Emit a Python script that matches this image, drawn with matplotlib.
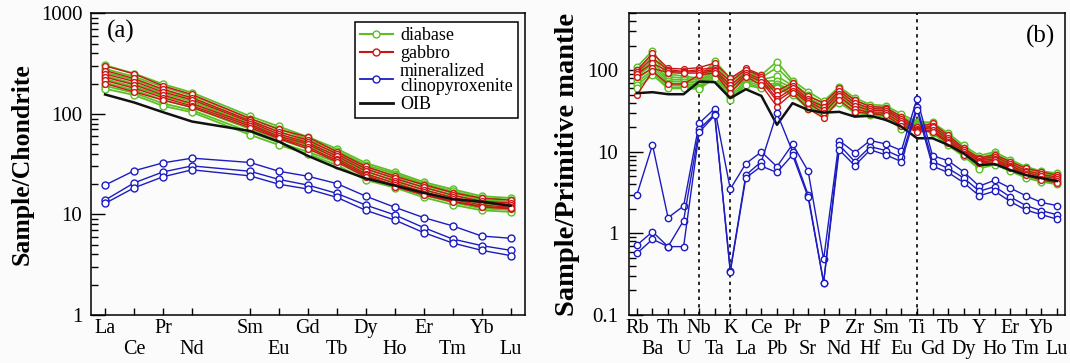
import numpy as np
import matplotlib.pyplot as plt
from matplotlib.lines import Line2D
from matplotlib.ticker import LogLocator, NullFormatter

plt.rcParams['font.family'] = 'serif'
plt.rcParams['font.serif'] = ['Liberation Serif', 'DejaVu Serif']

# ---- (a) chondrite-normalised REE ----
LANTHANIDES = ["La", "Ce", "Pr", "Nd", "Pm", "Sm", "Eu", "Gd", "Tb", "Dy",
               "Ho", "Er", "Tm", "Yb", "Lu"]
REE = [e for e in LANTHANIDES if e != "Pm"]

oib_ree = [156, 130, 104, 84, 67.6, 53, 38.3, 29, 22.8, 19.4, 16.4, 14.2, 13.4, 12.2]

diabase_ree = [
    [305, 252, 198, 163, 95, 75, 59, 45, 32.5, 26.5, 21, 17.8, 15.2, 14.6],
    [280, 235, 185, 152, 90, 71, 56, 43, 31, 25.5, 20.2, 17, 14.6, 14.0],
    [260, 218, 172, 142, 85, 67, 53, 41, 29.5, 24.5, 19.5, 16.4, 14.0, 13.4],
    [240, 200, 160, 133, 80, 63, 50, 39, 28, 23.3, 18.6, 15.7, 13.3, 12.8],
    [222, 186, 150, 125, 76, 60, 48, 37, 26.5, 22, 17.6, 14.8, 12.7, 12.2],
    [205, 172, 138, 116, 71, 56, 45, 35, 25, 20.8, 16.6, 14, 12, 11.6],
    [190, 162, 127, 109, 66, 52, 42, 33, 23.5, 19.5, 15.6, 13.2, 11.5, 11.1],
    [178, 154, 120, 104, 62, 49, 40, 31, 22, 18.5, 14.8, 12.5, 11, 10.6],
]

gabbro_ree = [
    [300, 250, 190, 156, 90, 70, 59, 42, 30, 24, 19.8, 16.5, 14.5, 13.9],
    [270, 225, 176, 145, 86, 66, 55, 40, 28.5, 22.8, 18.6, 15.5, 13.6, 13.0],
    [250, 210, 165, 138, 83, 63, 52, 38, 27, 21.5, 17.6, 14.8, 13.0, 12.4],
    [232, 195, 154, 127, 79, 60, 50, 36, 25.5, 20.4, 16.8, 14.1, 12.4, 11.8],
    [215, 180, 145, 120, 76, 58, 47, 34.5, 24.5, 19.5, 16, 13.5, 11.9, 11.4],
    [200, 166, 137, 116, 73, 57, 45, 33.4, 23.7, 18.9, 15.6, 13.4, 11.9, 11.5],
]

cpx_ree = [
    [19.6, 27.2, 32.6, 36.3, 32.9, 26.9, 24.0, 20.3, 15.2, 11.8, 9.3, 7.7, 6.1, 5.8],
    [13.9, 20.6, 26.5, 30.4, 26.9, 22.3, 19.6, 16.2, 12.4, 9.9, 7.4, 5.7, 4.9, 4.4],
    [12.9, 18.4, 23.7, 27.8, 24.2, 20.0, 17.9, 14.8, 11.0, 8.8, 6.6, 5.2, 4.4, 3.9],
]

# ---- (b) primitive-mantle-normalised trace elements ----
SPIDER = ["Rb", "Ba", "Th", "U", "Nb", "Ta", "K", "La", "Ce", "Pb", "Pr", "Sr",
          "P", "Nd", "Zr", "Hf", "Sm", "Eu", "Ti", "Gd", "Tb", "Dy", "Y", "Ho",
          "Er", "Tm", "Yb", "Lu"]
ANOMALY_LINES = ["Nb", "K", "Ti"]

oib_spider = [52.5, 54, 51, 51, 73, 71.6, 45.6, 58.7, 48.6, 21.5, 39.6, 32.7,
              30.3, 31, 27.1, 27.7, 24.7, 20.4, 14.7, 14.7, 12.2, 9.6, 6.9, 7.1,
              6.0, 5.2, 4.76, 4.4]

diabase_spider = [
    [110, 175, 90, 85, 80, 131, 80, 100, 88, 128, 75, 55, 42, 63, 46, 38, 37, 29, 23.5, 23, 17, 12, 9, 10, 8, 6.6, 5.8, 5.5],
    [100, 150, 84, 80, 76, 120, 72, 95, 82, 108, 70, 50, 39, 58, 43, 36, 35, 27, 22.5, 21.5, 16, 11.3, 8.5, 9.5, 7.6, 6.3, 5.5, 5.2],
    [92, 130, 78, 76, 72, 110, 66, 88, 77, 85, 65, 46, 37, 54, 40, 34, 33, 25.5, 22, 20.5, 15.2, 10.8, 8.1, 9.0, 7.2, 6.0, 5.3, 5.0],
    [85, 118, 74, 72, 69, 102, 60, 82, 73, 75, 61, 43, 35, 51, 38, 32.5, 31.5, 24, 21.5, 19.5, 14.5, 10.3, 7.7, 8.6, 6.9, 5.7, 5.1, 4.8],
    [78, 108, 70, 68, 66, 96, 55, 77, 69, 68, 58, 40, 33, 48, 36, 31, 30, 22.5, 21, 18.7, 14, 9.8, 7.2, 8.1, 6.6, 5.4, 4.8, 4.5],
    [72, 100, 66, 65, 63, 90, 50, 73, 65, 64, 55, 38, 31, 45, 34, 30, 29, 21, 20.5, 18, 13.2, 9.4, 6.8, 7.6, 6.2, 5.1, 4.6, 4.3],
    [66, 94, 62, 62, 61, 85, 47, 69, 62, 62, 52, 36, 29.5, 42, 32, 29, 28, 20, 20, 17.5, 12.6, 9.0, 6.5, 7.3, 6.0, 4.9, 4.4, 4.1],
    [60, 88, 60, 60, 59, 80, 43.5, 66, 60, 60, 50, 34, 28, 40, 30, 28, 27, 19, 20, 17, 12, 8.8, 6.2, 7.0, 5.8, 4.8, 4.3, 4.0],
]

gabbro_spider = [
    [100, 162, 106, 104, 108, 123, 80, 106, 88, 56, 70, 48, 40, 60, 43, 36, 35, 27, 20, 22.5, 16, 11.1, 8.4, 9.2, 7.6, 6.3, 5.7, 5.2],
    [95, 141, 102, 97, 102, 108, 73, 101, 84, 50, 65, 44, 36, 56, 40, 34, 33.5, 25.5, 19, 21, 15, 10.5, 8.1, 8.7, 7.2, 5.9, 5.3, 4.9],
    [90, 123, 97, 95, 97, 102, 66, 93, 78, 45, 60, 42, 33, 52, 37, 32, 32, 24, 18.5, 20, 14, 10, 7.8, 8.2, 6.8, 5.6, 5.0, 4.7],
    [82, 106, 94, 92, 93, 98, 60, 88, 73, 42, 56, 40, 30, 48, 34, 30, 30, 22.5, 18, 18.5, 13.3, 9.5, 7.5, 7.9, 6.5, 5.4, 4.7, 4.4],
    [50, 97, 68, 68, 88, 93, 53, 84, 66, 36, 52.5, 34, 26, 43, 31, 29.5, 28, 21, 17.7, 17.7, 12.8, 9.2, 7.3, 7.6, 6.3, 5.2, 4.5, 4.2],
]

cpx_spider = [
    [3.0, 12.2, 1.56, 2.17, 22.5, 34, 3.5, 7.2, 10, 6.6, 12.4, 5.85, 0.48, 13.8, 9.8, 13.8, 12.5, 10.4, 45, 9.0, 7.8, 5.7, 3.8, 4.5, 3.6, 2.9, 2.4, 2.2],
    [0.72, 1.05, 0.69, 1.44, 19, 29, 0.35, 5.2, 7.6, 30, 10.1, 3.0, 0.25, 12.2, 7.6, 11.6, 10.4, 8.6, 36, 7.6, 6.3, 4.8, 3.3, 3.75, 2.8, 2.2, 1.9, 1.7],
    [0.57, 0.85, 0.69, 0.69, 17.5, 28, 0.34, 4.8, 6.7, 5.6, 9.2, 2.8, 0.25, 10.6, 6.8, 10.6, 9.2, 7.6, 33, 6.7, 5.6, 4.2, 2.9, 3.3, 2.46, 1.94, 1.7, 1.5],
]

GREEN = '#5cbf26'
RED = '#cc1616'
BLUE = '#1c1cc0'
BLACK = '#111111'
BG = '#fbfbfb'


def draw_group(ax, x, rows, color, ms, lw, z):
    for row in rows:
        ax.plot(x, row, color=color, lw=lw, marker='o', ms=ms,
                mfc='white', mec=color, mew=1.0, zorder=z)


def style_axes(ax, x, labels, ylim, yticks, ylabel, label_pad, ylabel_size,
               ylabel_pad):
    ax.set_facecolor(BG)
    ax.set_yscale('log')
    ax.set_ylim(*ylim)
    ax.set_xlim(-0.5, x[-1] + 0.5)
    ax.set_yticks(yticks)
    ax.set_yticklabels([f"{t:g}" for t in yticks])
    ax.yaxis.set_minor_locator(LogLocator(base=10, subs=np.arange(2, 10)))
    ax.yaxis.set_minor_formatter(NullFormatter())

    # element names alternate between an upper and a lower row
    ax.set_xticks(x[0::2])
    ax.set_xticklabels(labels[0::2])
    ax.set_xticks(x[1::2], minor=True)
    ax.set_xticklabels(labels[1::2], minor=True)

    ax.tick_params(axis='y', which='major', direction='in', length=10,
                   width=1.0, labelsize=15, pad=label_pad, right=False)
    ax.tick_params(axis='y', which='minor', direction='in', length=5,
                   width=1.0, right=False)
    ax.tick_params(axis='x', which='major', direction='in', length=5,
                   width=1.0, labelsize=14.5, pad=3, top=False)
    ax.tick_params(axis='x', which='minor', direction='in', length=5,
                   width=1.0, labelsize=14.5, pad=18, top=False)
    for sp in ax.spines.values():
        sp.set_linewidth(1.1)
    ax.set_ylabel(ylabel, fontsize=ylabel_size, fontweight='bold',
                  labelpad=ylabel_pad)


fig = plt.figure(figsize=(10.7, 3.63), dpi=100, facecolor=BG)

# (a) REE pattern
ax_a = fig.add_axes([0.0847, 0.1322, 0.406, 0.831])
ree_x = [LANTHANIDES.index(e) for e in REE]
draw_group(ax_a, ree_x, diabase_ree, GREEN, 5, 1.3, 2)
draw_group(ax_a, ree_x, gabbro_ree, RED, 4.2, 1.0, 3)
ax_a.plot(ree_x, oib_ree, color=BLACK, lw=1.8, zorder=4)
draw_group(ax_a, ree_x, cpx_ree, BLUE, 5, 1.0, 5)
style_axes(ax_a, ree_x, REE, (1, 1000), [1, 10, 100, 1000],
           "Sample/Chondrite", 6, 18.5, 5)
ax_a.text(0.038, 0.94, "(a)", transform=ax_a.transAxes, fontsize=18,
          ha='left', va='center')

handles = [
    Line2D([], [], color=GREEN, lw=1.5, marker='o', ms=5, mfc='white', mec=GREEN),
    Line2D([], [], color=RED, lw=1.5, marker='o', ms=5, mfc='white', mec=RED),
    Line2D([], [], color=BLUE, lw=1.3, marker='o', ms=5, mfc='white', mec=BLUE),
    Line2D([], [], color=BLACK, lw=2.0),
]
leg = ax_a.legend(handles, ["diabase", "gabbro", "mineralized\nclinopyroxenite", "OIB"],
                  loc='upper right', bbox_to_anchor=(0.984, 0.972),
                  borderaxespad=0, fontsize=13, frameon=True, fancybox=False,
                  handlelength=1.8, handletextpad=0.4, labelspacing=0.05,
                  borderpad=0.3)
leg.get_frame().set_edgecolor('black')
leg.get_frame().set_linewidth(1.1)
leg.get_frame().set_facecolor('white')
leg.get_frame().set_alpha(1)
for txt in leg.get_texts():
    txt.set_linespacing(0.85)

# (b) spider diagram
ax_b = fig.add_axes([0.588, 0.1322, 0.4071, 0.831])
sp_x = np.arange(len(SPIDER))
for el in ANOMALY_LINES:
    ax_b.axvline(SPIDER.index(el), color='black', lw=1.2,
                 ls=(0, (2, 2.5)), zorder=1)
draw_group(ax_b, sp_x, diabase_spider, GREEN, 4.8, 1.2, 2)
draw_group(ax_b, sp_x, gabbro_spider, RED, 4.2, 1.0, 3)
ax_b.plot(sp_x, oib_spider, color=BLACK, lw=1.8, zorder=4)
draw_group(ax_b, sp_x, cpx_spider, BLUE, 4.6, 1.0, 5)
style_axes(ax_b, sp_x, SPIDER, (0.1, 500), [0.1, 1, 10, 100],
           "Sample/Primitive mantle", 8, 20.5, 5)
ax_b.text(0.9775, 0.923, "(b)", transform=ax_b.transAxes, fontsize=18,
          ha='right', va='center')

fig.savefig("out.png", dpi=100, facecolor=fig.get_facecolor())
